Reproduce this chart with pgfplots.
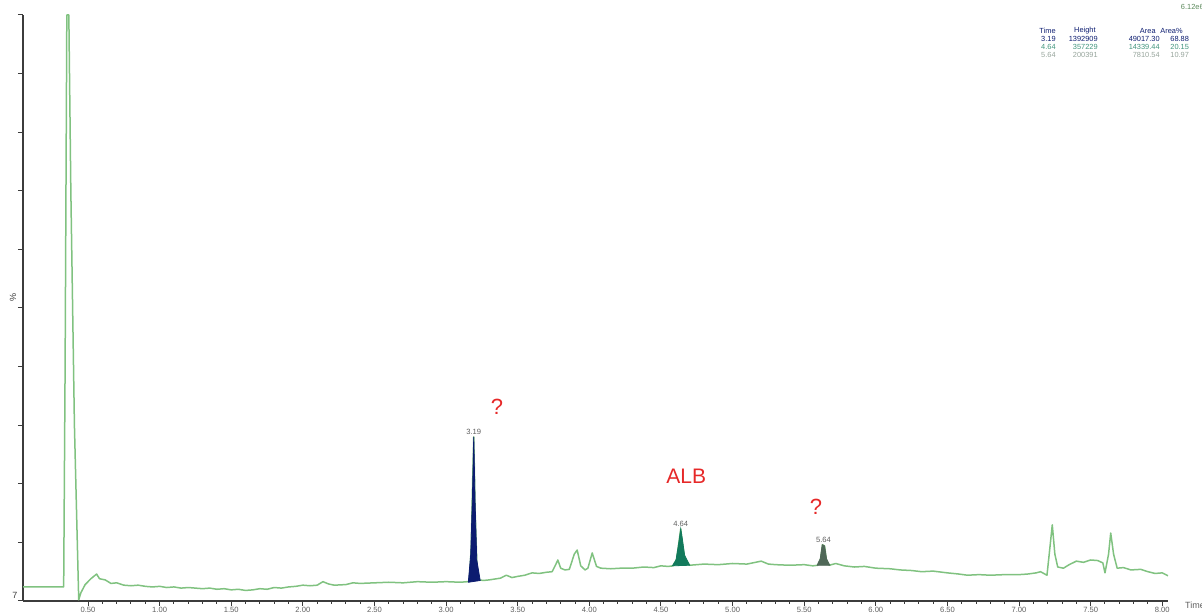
\documentclass[border=0pt]{standalone}
\usepackage{fontspec}
\setmainfont{Liberation Sans}
\usepackage{pgfplots}
\pgfplotsset{compat=1.18}

\definecolor{trace}{RGB}{128,194,128}
\definecolor{pkA}{RGB}{12,28,112}
\definecolor{pkB}{RGB}{18,122,92}
\definecolor{pkC}{RGB}{80,104,88}
\definecolor{axgray}{RGB}{60,60,60}
\definecolor{lblgray}{RGB}{95,95,95}
\definecolor{annred}{RGB}{230,40,40}

\begin{document}
\begin{tikzpicture}
\useasboundingbox (0,0) rectangle (601pt,307pt);
\begin{axis}[
    at={(11.5pt,6.5pt)}, anchor=south west,
    scale only axis, width=572.5pt, height=293pt,
    xmin=0.046, xmax=8.04, ymin=0, ymax=100,
    axis x line*=bottom, axis y line*=left,
    axis line style={axgray, line width=0.7pt, -},
    tick align=outside,
    xtick={0.5,1,...,8}, minor x tick num=4,
    ytick={0,10,...,100}, yticklabels={},
    major tick length=2.5pt, minor tick length=1.5pt,
    tick style={axgray, line width=0.5pt},
    /pgf/number format/assume math mode=true,
    /pgf/number format/.cd, fixed, fixed zerofill, precision=2, /pgfplots/.cd,
    xticklabel style={font=\fontsize{3.8}{4}\selectfont, text=lblgray, inner sep=0.6pt},
    clip=true,
]
% chromatogram trace
\addplot[trace, line width=0.75pt, line join=round] coordinates {
  (0.046,2.4) (0.33,2.4) (0.34,40) (0.352,100) (0.366,100) (0.38,70) (0.405,30)
  (0.435,0.2) (0.45,1.4) (0.48,2.8) (0.52,3.8) (0.56,4.6) (0.58,3.8) (0.62,3.6)
  (0.66,3.0) (0.70,3.1) (0.75,2.7) (0.80,2.6) (0.85,2.7) (0.90,2.5) (0.95,2.4)
  (1.00,2.5) (1.05,2.3) (1.10,2.4) (1.15,2.2) (1.20,2.3) (1.25,2.2) (1.30,2.1)
  (1.35,2.2) (1.40,2.0) (1.45,2.1) (1.50,1.9) (1.55,2.0) (1.60,1.8) (1.65,1.9)
  (1.70,2.1) (1.75,2.0) (1.80,2.3) (1.85,2.2) (1.90,2.4) (1.95,2.5) (2.00,2.7)
  (2.05,2.6) (2.10,2.7) (2.14,3.3) (2.18,2.9) (2.22,2.7) (2.30,2.8) (2.35,3.1)
  (2.40,3.0) (2.50,3.1) (2.60,3.2) (2.70,3.1) (2.80,3.3) (2.90,3.2) (3.00,3.3)
  (3.10,3.2) (3.15,3.3) (3.162,3.3) (3.175,9) (3.185,20) (3.193,28.0) (3.203,15)
  (3.215,6) (3.232,3.6) (3.26,3.5) (3.30,3.6) (3.38,3.9) (3.42,4.4) (3.46,4.0)
  (3.50,4.2) (3.55,4.4) (3.60,4.8) (3.65,4.7) (3.70,4.9) (3.74,5.0) (3.765,6.2)
  (3.78,7.0) (3.80,5.6) (3.83,5.3) (3.86,5.4) (3.895,8.0) (3.915,8.7) (3.94,6.0)
  (3.97,5.3) (3.99,5.6) (4.02,8.2) (4.05,5.9) (4.08,5.6) (4.15,5.5) (4.22,5.6)
  (4.30,5.6) (4.38,5.8) (4.45,5.7) (4.50,6.0) (4.55,5.9) (4.585,6.0) (4.61,7.2)
  (4.628,10.5) (4.638,12.3) (4.648,10.0) (4.665,7.4) (4.70,6.1) (4.75,6.2)
  (4.80,6.3) (4.90,6.2) (5.00,6.4) (5.10,6.3) (5.20,6.8) (5.25,6.3) (5.30,6.2)
  (5.40,6.1) (5.50,6.2) (5.56,6.0) (5.595,6.1) (5.615,7.2) (5.628,9.6)
  (5.642,9.4) (5.655,7.0) (5.675,6.1) (5.72,6.4) (5.78,6.0) (5.85,5.8)
  (5.92,5.9) (6.00,5.6) (6.10,5.5) (6.17,5.3) (6.25,5.2) (6.32,5.0) (6.40,5.1)
  (6.50,4.8) (6.58,4.6) (6.64,4.4) (6.72,4.5) (6.80,4.4) (6.90,4.5) (7.00,4.5)
  (7.06,4.6) (7.12,4.8) (7.15,5.0) (7.195,4.4) (7.215,9) (7.232,13.0)
  (7.25,8) (7.27,5.8) (7.31,5.6) (7.35,6.2) (7.40,6.8) (7.45,6.6) (7.50,7.0)
  (7.55,6.9) (7.585,6.5) (7.60,4.8) (7.625,8) (7.64,11.6) (7.66,8) (7.685,5.6)
  (7.73,5.7) (7.78,5.3) (7.85,5.4) (7.90,5.0) (7.95,4.7) (8.00,4.8) (8.04,4.3)
};
% peak fills
\addplot[fill=pkA, draw=pkA, line width=0.4pt] coordinates {
  (3.155,3.2) (3.172,8) (3.184,18) (3.193,28.0) (3.202,17) (3.214,7) (3.238,3.5)
} -- cycle;
\addplot[fill=pkB, draw=pkB, line width=0.4pt] coordinates {
  (4.58,6.0) (4.605,7.0) (4.625,10.0) (4.638,12.3) (4.65,10.5) (4.665,7.8) (4.70,6.1)
} -- cycle;
\addplot[fill=pkC, draw=pkC, line width=0.4pt] coordinates {
  (5.59,6.1) (5.612,7.2) (5.626,9.6) (5.642,9.4) (5.656,7.2) (5.678,6.1)
} -- cycle;
% peak labels and annotations
\node[font=\fontsize{3.8}{4}\selectfont, text=lblgray, anchor=south, inner sep=0.8pt] at (axis cs:3.193,28.0) {3.19};
\node[font=\fontsize{3.8}{4}\selectfont, text=lblgray, anchor=south, inner sep=0.8pt] at (axis cs:4.638,12.3) {4.64};
\node[font=\fontsize{3.8}{4}\selectfont, text=lblgray, anchor=south, inner sep=0.8pt] at (axis cs:5.635,9.6) {5.64};
\node[font=\fontsize{11}{12}\selectfont, text=annred] at (axis cs:3.356,33.2) {?};
\node[font=\fontsize{10.5}{12}\selectfont, text=annred] at (axis cs:4.676,21.2) {ALB};
\node[font=\fontsize{11}{12}\selectfont, text=annred] at (axis cs:5.583,16.0) {?};
\end{axis}
% axis decorations in picture coordinates (1 px = 0.5 pt)
\node[font=\fontsize{4.5}{5}\selectfont, text=lblgray, anchor=west] at (589pt,4.5pt) {Time};
\node[font=\fontsize{4.5}{5}\selectfont, text=axgray, rotate=90] at (6.5pt,158pt) {\%};
\node[font=\fontsize{4.5}{5}\selectfont, text=axgray] at (7.5pt,9.5pt) {7};
% peak table
\begin{scope}[font=\fontsize{3.7}{4}\selectfont, inner sep=0pt]
\node[text=trace!70!black, anchor=east] at (602pt,303.5pt) {6.12e6};
\node[text=pkA, anchor=east] at (528pt,291.5pt) {Time};
\node[text=pkA, anchor=east] at (548pt,291.5pt) {Height};
\node[text=pkA, anchor=east] at (578pt,291.5pt) {Area};
\node[text=pkA, anchor=west] at (580pt,291.5pt) {Area\%};
\node[text=pkA, anchor=east] at (528pt,287.5pt) {3.19};
\node[text=pkA, anchor=east] at (549pt,287.5pt) {1392909};
\node[text=pkA, anchor=east] at (580pt,287.5pt) {49017.30};
\node[text=pkA, anchor=west] at (585pt,287.5pt) {68.88};
\node[text=pkB!80, anchor=east] at (528pt,283.5pt) {4.64};
\node[text=pkB!80, anchor=east] at (549pt,283.5pt) {357229};
\node[text=pkB!80, anchor=east] at (580pt,283.5pt) {14339.44};
\node[text=pkB!80, anchor=west] at (585pt,283.5pt) {20.15};
\node[text=pkC!60, anchor=east] at (528pt,279.5pt) {5.64};
\node[text=pkC!60, anchor=east] at (549pt,279.5pt) {200391};
\node[text=pkC!60, anchor=east] at (580pt,279.5pt) {7810.54};
\node[text=pkC!60, anchor=west] at (585pt,279.5pt) {10.97};
\end{scope}
\end{tikzpicture}
\end{document}
